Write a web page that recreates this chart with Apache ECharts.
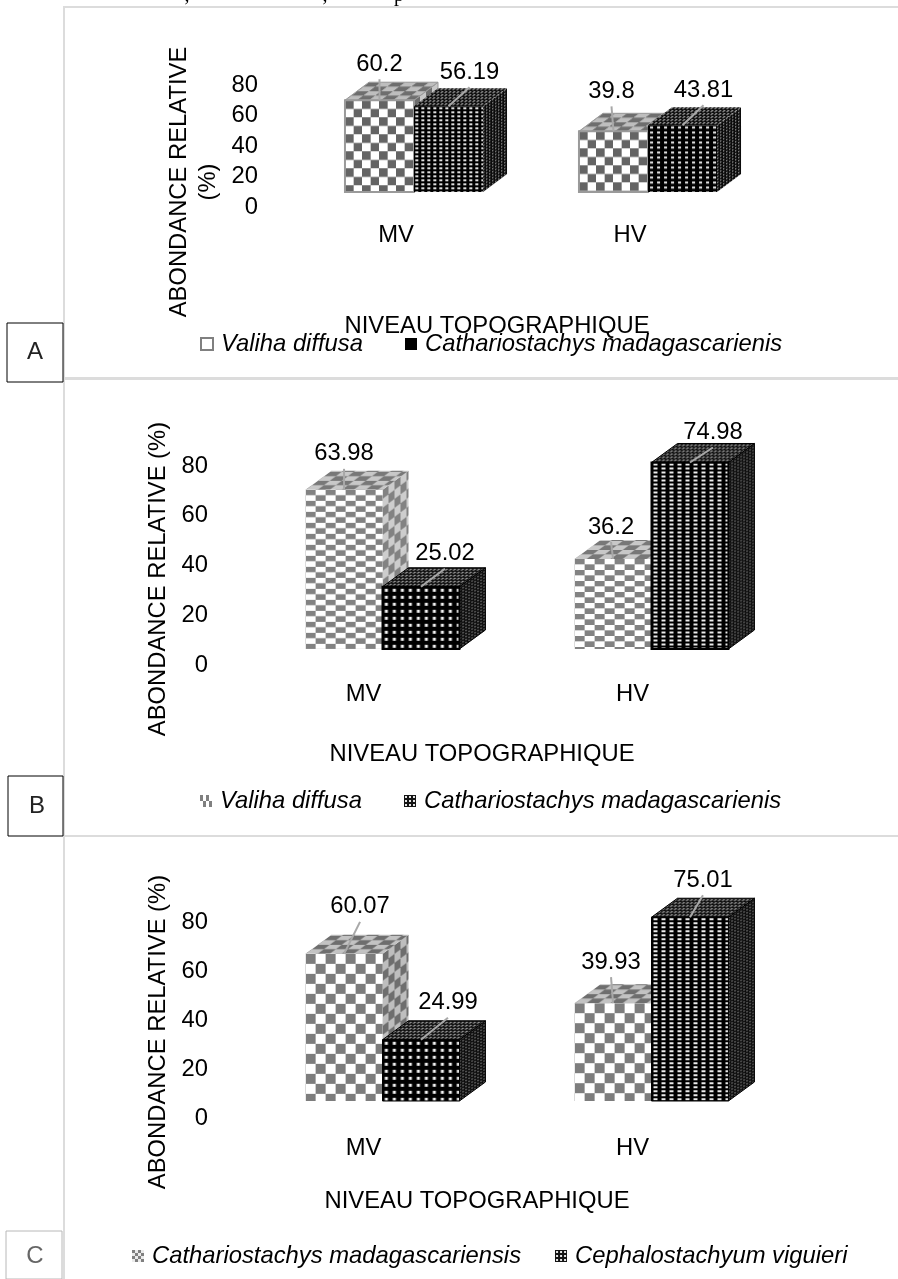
<!DOCTYPE html>
<html><head><meta charset="utf-8">
<style>html,body{margin:0;padding:0;background:#fff}#c{width:898px;height:1279px}</style>
<script src="https://cdn.jsdelivr.net/npm/echarts@6/dist/echarts.min.js"></script>
</head><body><div id="c"></div>
<script>
// ---- data ----
const categories = ['MV','HV'];
const yTicks = [0,20,40,60,80];
const panelA_names = ['Valiha diffusa','Cathariostachys madagascarienis'];
const panelA_first = [60.2,39.8];
const panelA_second = [56.19,43.81];
const panelB_names = ['Valiha diffusa','Cathariostachys madagascarienis'];
const panelB_first = [63.98,36.2];
const panelB_second = [25.02,74.98];
const panelC_names = ['Cathariostachys madagascariensis','Cephalostachyum viguieri'];
const panelC_first = [60.07,39.93];
const panelC_second = [24.99,75.01];
const panelLetters = ['A','B','C'];
const xTitle = 'NIVEAU TOPOGRAPHIQUE';

// ---- texture tiles ----
const FS = 23.8, FF = '"Liberation Sans", Arial, sans-serif';
function tile(w,h,f){
  const c=document.createElement('canvas');c.width=w;c.height=h;
  const g=c.getContext('2d'),im=g.createImageData(w,h),S=3;
  for(let y=0;y<h;y++)for(let x=0;x<w;x++){
    let s=0;for(let j=0;j<S;j++)for(let i=0;i<S;i++)s+=f(x+(i+.5)/S,y+(j+.5)/S);
    s=Math.round(s/(S*S));const k=(y*w+x)*4;
    im.data[k]=im.data[k+1]=im.data[k+2]=s;im.data[k+3]=255;
  }
  g.putImageData(im,0,0);return c;
}
const chk=(u,v,a,b)=>((Math.floor(u)+Math.floor(v))%2===0)?a:b;
const frontChecker=(cw,ch,a,b)=>tile(Math.round(2*cw),Math.round(2*ch),(x,y)=>chk(x/cw,y/ch,a,b));
const topChecker=(a,b)=>tile(24,18,(x,y)=>chk((x+y*4/3)/12,y/4.5,a,b));
const sideChecker=(a,b)=>tile(24,18,(x,y)=>chk(x/6,(y+x*.75)/9,a,b));
const frontDots=(pw,ph,dw,dh,a,b)=>tile(pw,ph,(x,y)=>(x>=(pw-dw)/2&&x<(pw+dw)/2&&y>=(ph-dh)/2&&y<(ph+dh)/2)?b:a);
const topDark=(a,b)=>tile(24,18,(x,y)=>{const u=(x+y*4/3)/4,v=y/3;return (u-Math.floor(u)<.5&&v-Math.floor(v)<.55)?b:a;});
const sideDark=(a,b)=>tile(24,18,(x,y)=>{const u=x/3,v=(y+x*.75)/3;return (u-Math.floor(u)<.4&&v-Math.floor(v)<.4)?b:a;});
const pat=(img,x,y)=>({image:img,repeat:'repeat',x:x||0,y:y||0});
const same=(t)=>[t,t];

const panels=[
 {names:panelA_names,first:panelA_first,second:panelA_second,
  grid:{left:279,top:85,width:468,height:122,outerBoundsMode:'none'},lift:15,shift:18,frac:.295,dx:24,dy:18,
  yName:'ABONDANCE RELATIVE\n(%)',yGap:56,yPad:[0,72,0,0],
  xGap:107,xPad:[0,32,0,0],catMargin:16,legendGap:42,
  legend:{left:195,top:327},
  styles:[{fronts:same(frontChecker(8.6,8.7,100,255)),top:topChecker(110,190),side:sideChecker(110,200),stroke:'#9a9a9a',sw:2},
          {fronts:[frontDots(6,4,3,2,0,225),frontDots(7,5,3,2,0,240)],top:topDark(10,180),side:sideDark(10,180),stroke:null,sw:0}],
  labels:[[[0,-38],[-2,-42]],[[21,-36],[21,-37]]],
  legendIcons:[{color:'#fff',borderColor:'#808080',borderWidth:2},{color:'#000'}]},
 {names:panelB_names,first:panelB_first,second:panelB_second,
  grid:{left:229,top:466,width:538,height:199,outerBoundsMode:'none'},lift:16,shift:19,frac:.286,dx:26,dy:19,
  yName:'ABONDANCE RELATIVE (%)',yGap:56,yPad:[0,27,0,0],
  xGap:77,xPad:[0,32,0,0],catMargin:17,legendGap:42,
  legend:{left:195,top:784},
  styles:[{fronts:same(frontChecker(10,5.5,130,255)),top:topChecker(120,200),side:sideChecker(130,205),stroke:null,sw:0},
          {fronts:[frontDots(8,7,3,3,0,245),frontDots(8,4,4,2,0,235)],top:topDark(10,185),side:sideDark(10,170),stroke:'#000',sw:2}],
  labels:[[[0,-38],[-2,-34]],[[24,-35],[23,-32]]],
  legendIcons:[{color:pat(frontChecker(3,6,128,255))},{color:pat(frontDots(4,4,2,2,20,230))}]},
 {names:panelC_names,first:panelC_first,second:panelC_second,
  grid:{left:229,top:922,width:538,height:196,outerBoundsMode:'none'},lift:17,shift:19,frac:.286,dx:26,dy:19,
  yName:'ABONDANCE RELATIVE (%)',yGap:56,yPad:[0,24,0,0],
  xGap:71,xPad:[0,42,0,0],catMargin:18,legendGap:34,
  legend:{left:127,top:1239},
  styles:[{fronts:same(frontChecker(10,10,125,255)),top:topChecker(110,195),side:sideChecker(110,190),stroke:null,sw:0},
          {fronts:[frontDots(8,7,3,3,0,245),frontDots(8,4,4,2,0,235)],top:topDark(10,185),side:sideDark(10,170),stroke:'#000',sw:1}],
  labels:[[[16,-49],[-2,-43]],[[27,-39],[13,-39]]],
  legendIcons:[{color:pat(frontChecker(3,3,128,235))},{color:pat(frontDots(4,4,2,2,20,230))}]}
];

function box(p,idx){
  const st=p.styles[idx];
  return function(params,api){
    const cat=api.value(0),val=api.value(1);
    const b=api.coord([cat,0]),t=api.coord([cat,val]);
    const w=api.size([1,0])[0]*p.frac;
    const x0=b[0]+p.shift+(idx-1)*w,x1=x0+w,y0=t[1]-p.lift,y1=b[1]-p.lift,dx=p.dx,dy=p.dy;
    const cx=(x0+x1)/2,off=p.labels[idx][cat];
    const lx=cx+off[0],ly=y0+off[1];
    const strokeStyle=st.stroke?{stroke:st.stroke,lineWidth:st.sw}:{};
    return {type:'group',children:[
      {type:'polygon',shape:{points:[[x1,y0],[x1+dx,y0-dy],[x1+dx,y1-dy],[x1,y1]]},
       style:Object.assign({fill:pat(st.side,x1,y0)},st.stroke?{stroke:st.stroke,lineWidth:1}:{})},
      {type:'polygon',shape:{points:[[x0,y0],[x0+dx,y0-dy],[x1+dx,y0-dy],[x1,y0]]},
       style:Object.assign({fill:pat(st.top,x0,y0)},st.stroke?{stroke:st.stroke,lineWidth:1}:{})},
      {type:'rect',shape:{x:x0,y:y0,width:w,height:y1-y0},
       style:Object.assign({fill:pat(st.fronts[cat],x0,y0)},strokeStyle)},
      {type:'line',shape:{x1:cx,y1:y0,x2:lx,y2:ly+17},style:{stroke:'#a8a8a8',lineWidth:2}},
      {type:'text',x:lx,y:ly+2,style:{text:String(val),fontSize:FS,fontFamily:FF,fill:'#000',align:'center',verticalAlign:'middle'}}
    ]};
  };
}

const grid=[],xAxis=[],yAxis=[],series=[],legend=[];
panels.forEach((p,i)=>{
  grid.push(p.grid);
  xAxis.push({type:'category',gridIndex:i,data:categories,nameMoveOverlap:false,
    axisLine:{show:false},axisTick:{show:false},splitLine:{show:false},
    axisLabel:{color:'#000',fontSize:FS,fontFamily:FF,margin:p.catMargin},
    name:xTitle,nameLocation:'middle',nameGap:p.xGap,
    nameTextStyle:{color:'#000',fontSize:FS,fontFamily:FF,padding:p.xPad}});
  yAxis.push({type:'value',gridIndex:i,min:yTicks[0],max:yTicks[yTicks.length-1],interval:20,nameMoveOverlap:false,
    axisLine:{show:false},axisTick:{show:false},splitLine:{show:false},
    axisLabel:{color:'#000',fontSize:FS,fontFamily:FF,margin:21},
    name:p.yName,nameLocation:'middle',nameGap:p.yGap,nameRotate:90,
    nameTextStyle:{color:'#000',fontSize:FS,fontFamily:FF,padding:p.yPad,lineHeight:29}});
  [p.first,p.second].forEach((vals,k)=>{
    series.push({type:'custom',name:p.names[k],xAxisIndex:i,yAxisIndex:i,coordinateSystem:'cartesian2d',
      encode:{x:0,y:1},silent:true,animation:false,clip:false,z:2+k,
      itemStyle:{color:p.legendIcons[k].color},
      renderItem:box(p,k),
      data:vals.map((v,c)=>[c,v])});
  });
  legend.push({left:p.legend.left,top:p.legend.top,orient:'horizontal',selectedMode:false,icon:'rect',
    itemWidth:12,itemHeight:12,itemGap:p.legendGap,
    textStyle:{color:'#000',fontSize:FS,fontFamily:FF,fontStyle:'italic',padding:[0,0,0,3]},
    data:p.names.map((n,k)=>({name:n,itemStyle:p.legendIcons[k]}))});
});

const LINE='#dcdcdc';
const hline=(x1,y,x2,c,w)=>({type:'line',shape:{x1:x1,y1:y,x2:x2,y2:y},style:{stroke:c||LINE,lineWidth:w||2},z:1});
const vline=(x,y1,y2,c,w)=>({type:'line',shape:{x1:x,y1:y1,x2:x,y2:y2},style:{stroke:c||LINE,lineWidth:w||2},z:1});
const boxes=[{x:7,y:323,w:56,h:59,c:'#000'},{x:8,y:776,w:55,h:60,c:'#000'},{x:6,y:1231,w:56,h:48,c:'#b8b8b8'}];
const letterPos=[[35,352,'#222'],[37,806,'#222'],[35,1256,'#666']];
const stray=[[187,','],[325,','],[399,'p']];
const graphic=[
  hline(63,7,898),vline(64,7,1279),hline(64,378.5,898,'#dcdcdc',3),hline(64,836,898),
  ...boxes.map(b=>({type:'rect',shape:{x:b.x,y:b.y,width:b.w,height:b.h},style:{fill:'#fff',stroke:b.c,lineWidth:1},z:2})),
  ...panelLetters.map((t,i)=>({type:'text',x:letterPos[i][0],y:letterPos[i][1],z:3,
     style:{text:t,fontSize:24,fontFamily:FF,fill:letterPos[i][2],align:'center',verticalAlign:'middle'}})),
  ...stray.map(s=>({type:'text',x:s[0],y:6,z:3,style:{text:s[1],fontSize:20,fontFamily:'"Liberation Serif",serif',fill:'#000',align:'center',verticalAlign:'bottom'}}))
];

const chart=echarts.init(document.getElementById('c'),null,{renderer:'canvas'});
chart.setOption({animation:false,backgroundColor:'#fff',tooltip:{show:false},grid,xAxis,yAxis,series,legend,graphic});
</script></body></html>
